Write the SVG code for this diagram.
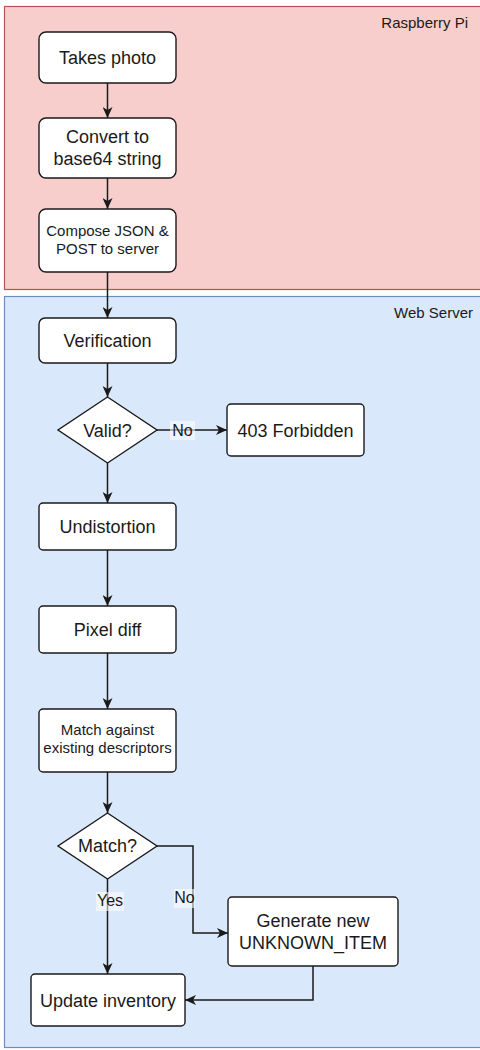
<svg xmlns="http://www.w3.org/2000/svg" width="480" height="1050" viewBox="0 0 480 1050">
<style>
.node{fill:#ffffff;stroke:#1a1a1a;stroke-width:1.4}
.t{font-family:"Liberation Sans",Arial,sans-serif;font-size:18px;fill:#1a1a1a;text-anchor:middle}
.s{font-size:15px}
.lbl{font-family:"Liberation Sans",Arial,sans-serif;font-size:16px;fill:#1a1a1a;text-anchor:middle}
.lbg{fill:#ffffff;fill-opacity:0.55}
.edge{fill:none;stroke:#1a1a1a;stroke-width:1.5}
.title{font-family:"Liberation Sans",Arial,sans-serif;font-size:15px;fill:#1a1a1a;text-anchor:end}
</style>
<defs>
<marker id="arr" markerUnits="userSpaceOnUse" markerWidth="12" markerHeight="10" refX="11" refY="5" orient="auto">
<path d="M0,0 L11,5 L0,10 L3,5 Z" fill="#1a1a1a"/>
</marker>
</defs>
<rect width="480" height="1050" fill="#ffffff"/>
<g id="panel-pi">
<rect x="4.5" y="6.5" width="480" height="283" fill="#f8cecc" stroke="#b85450" stroke-width="1.2"/>
<text class="title" x="468" y="28">Raspberry Pi</text>
</g>
<g id="panel-web">
<rect x="4.5" y="296.5" width="480" height="751" fill="#dae8fc" stroke="#6c8ebf" stroke-width="1.2"/>
<text class="title" x="473" y="318">Web Server</text>
</g>
<g id="connectors">
<path class="edge" d="M107.5,83 V118" marker-end="url(#arr)"/>
<path class="edge" d="M107.5,178 V209" marker-end="url(#arr)"/>
<path class="edge" d="M107.5,272 V318" marker-end="url(#arr)"/>
<path class="edge" d="M107.5,363 V397" marker-end="url(#arr)"/>
<path class="edge" d="M157,430 H227" marker-end="url(#arr)"/>
<path class="edge" d="M107.5,463 V503" marker-end="url(#arr)"/>
<path class="edge" d="M107.5,550 V606" marker-end="url(#arr)"/>
<path class="edge" d="M107.5,653 V709" marker-end="url(#arr)"/>
<path class="edge" d="M107.5,772 V813" marker-end="url(#arr)"/>
<path class="edge" d="M157,846 H193 V933 H228" marker-end="url(#arr)"/>
<path class="edge" d="M107.5,879 V974" marker-end="url(#arr)"/>
<path class="edge" d="M313,966 V1000 H185" marker-end="url(#arr)"/>
<rect class="lbg" x="170" y="421" width="25" height="19"/>
<text class="lbl" x="182.5" y="436">No</text>
<rect class="lbg" x="96" y="892" width="28" height="19"/>
<text class="lbl" x="110" y="906">Yes</text>
<rect class="lbg" x="174" y="889" width="21" height="19"/>
<text class="lbl" x="184.5" y="903">No</text>
</g>
<g id="n-takes-photo">
<rect class="node" x="39" y="32" width="137" height="51" rx="7"/>
<text class="t" x="107.5" y="64">Takes photo</text>
</g>
<g id="n-convert">
<rect class="node" x="39" y="118" width="137" height="60" rx="7"/>
<text class="t" x="107.5" y="143">Convert to</text>
<text class="t" x="107.5" y="165">base64 string</text>
</g>
<g id="n-compose">
<rect class="node" x="39" y="209" width="137" height="63" rx="7"/>
<text class="t s" x="107.5" y="236">Compose JSON &amp;</text>
<text class="t s" x="107.5" y="254">POST to server</text>
</g>
<g id="n-verification">
<rect class="node" x="39" y="318" width="137" height="45" rx="6"/>
<text class="t" x="107.5" y="347">Verification</text>
</g>
<g id="n-valid">
<polygon class="node" points="107.5,397 157,430 107.5,463 58,430"/>
<text class="t" x="107.5" y="437">Valid?</text>
</g>
<g id="n-forbidden">
<rect class="node" x="227" y="404" width="137" height="52" rx="4"/>
<text class="t" x="295.5" y="437">403 Forbidden</text>
</g>
<g id="n-undistortion">
<rect class="node" x="39" y="503" width="137" height="47" rx="4"/>
<text class="t" x="107.5" y="533">Undistortion</text>
</g>
<g id="n-pixel-diff">
<rect class="node" x="39" y="606" width="137" height="47" rx="4"/>
<text class="t" x="107.5" y="636">Pixel diff</text>
</g>
<g id="n-match-against">
<rect class="node" x="39" y="709" width="137" height="63" rx="4"/>
<text class="t s" x="107.5" y="735">Match against</text>
<text class="t s" x="107.5" y="753">existing descriptors</text>
</g>
<g id="n-match">
<polygon class="node" points="107.5,813 157,846 107.5,879 58,846"/>
<text class="t" x="107.5" y="852">Match?</text>
</g>
<g id="n-generate">
<rect class="node" x="228" y="897" width="170" height="69" rx="4"/>
<text class="t" x="313" y="927">Generate new</text>
<text class="t" x="313" y="949">UNKNOWN_ITEM</text>
</g>
<g id="n-update">
<rect class="node" x="31" y="974" width="154" height="52" rx="4"/>
<text class="t" x="108" y="1007">Update inventory</text>
</g>
</svg>
